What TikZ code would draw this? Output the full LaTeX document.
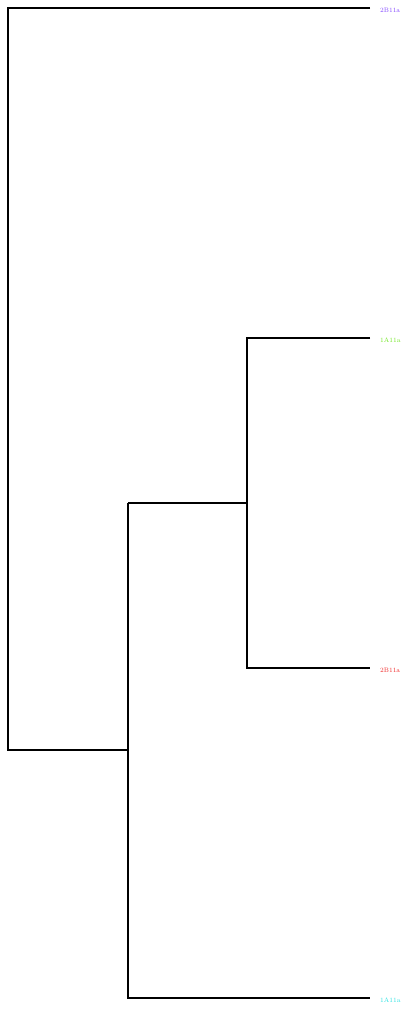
\documentclass[tikz,border=0pt]{standalone}
\begin{document}
\begin{tikzpicture}[x=1pt,y=-1pt,
  branch/.style={line width=1.6pt,black},
  leaflabel/.style={anchor=west,inner sep=0pt,font=\fontsize{6.5}{6.5}\selectfont}]
\useasboundingbox (0,0) rectangle (415,1014);
\definecolor{cpurple}{RGB}{130,70,255}
\definecolor{cgreen}{RGB}{110,230,30}
\definecolor{cred}{RGB}{240,40,40}
\definecolor{ccyan}{RGB}{40,225,225}
% internal nodes
\coordinate (root) at (8,750);
\coordinate (n1) at (128,750);
\coordinate (n2) at (247,503);
% leaves
\coordinate (l1) at (370,8);
\coordinate (l2) at (370,338);
\coordinate (l3) at (370,668);
\coordinate (l4) at (370,998);
\draw[branch] (l1) -| (root) -- (n1);
\draw[branch] (n2 -| n1) |- (l4);
\draw[branch] (n2 -| n1) -- (n2);
\draw[branch] (l2) -| (n2) |- (l3);
\node[leaflabel,text=cpurple] (t1) at (380,10) {2B11a};
\node[leaflabel,text=cgreen] (t2) at (380,340) {1A11a};
\node[leaflabel,text=cred] (t3) at (380,670) {2B11a};
\node[leaflabel,text=ccyan] (t4) at (380,1000) {1A11a};
\end{tikzpicture}
\end{document}
